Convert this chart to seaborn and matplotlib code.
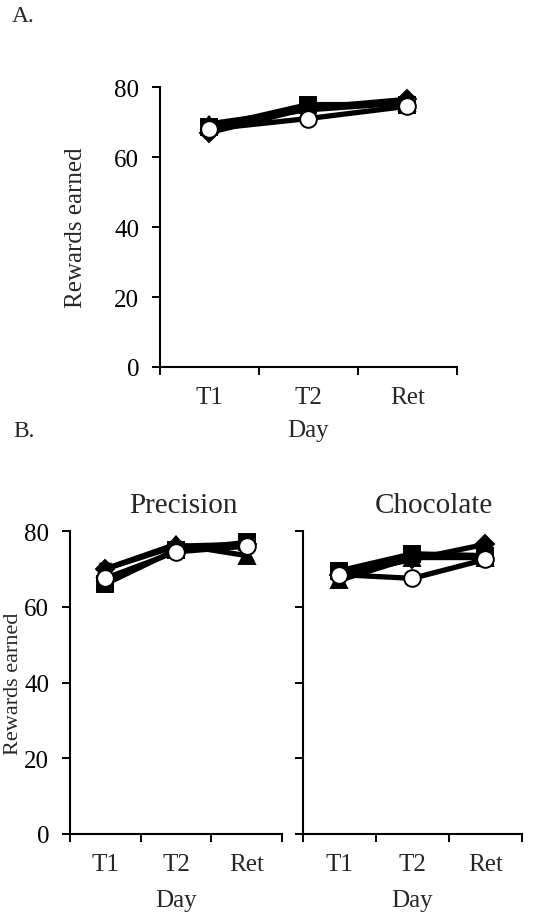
import matplotlib
matplotlib.use("Agg")
import matplotlib.pyplot as plt
import seaborn as sns
import pandas as pd
import numpy as np

sns.set_theme(style="ticks")
plt.rcParams['font.family'] = ['Liberation Serif', 'DejaVu Serif']

days = ["T1", "T2", "Ret"]
groups = ["diamond", "square", "triangle", "circle"]
markers = {"diamond": "D", "square": "s", "triangle": "^", "circle": "o"}
faces = {"diamond": "black", "square": "black", "triangle": "black", "circle": "white"}
msizes = {"diamond": 9, "square": 11, "triangle": 11, "circle": 12}

# Panel A
a_diamond = [67.0, 74.0, 76.5]
a_square = [68.5, 75.0, 75.0]
a_triangle = [69.5, 73.5, 75.5]
a_circle = [68.0, 71.0, 74.5]
a_err = [1.0, 1.0, 1.0]

# Panel B - Precision
p_diamond = [70.0, 76.0, 76.5]
p_square = [66.0, 75.0, 77.0]
p_triangle = [70.0, 76.5, 73.5]
p_circle = [67.5, 74.5, 76.0]
p_err = [1.5, 1.0, 1.0]

# Panel B - Chocolate
c_diamond = [68.5, 72.5, 76.5]
c_square = [69.5, 74.0, 73.5]
c_triangle = [67.0, 73.0, 73.0]
c_circle = [68.5, 67.5, 72.5]
c_err = [1.5, 1.0, 1.0]

yticks = [0, 20, 40, 60, 80]
FS = 18

fig = plt.figure(figsize=(5.4, 9.2), dpi=100)
axA = fig.add_axes([0.296, 0.600, 0.550, 0.3043])
axP = fig.add_axes([0.1296, 0.0924, 0.3926, 0.3293])
axC = fig.add_axes([0.561, 0.0924, 0.4056, 0.3293])

def draw(ax, data, err):
    for g in groups:
        df = pd.DataFrame({"Day": days, "Rewards": data[g]})
        ax.errorbar(np.arange(3), data[g], yerr=err, fmt="none",
                    ecolor="black", elinewidth=1.3, capsize=4, zorder=2)
        sns.lineplot(data=df, x="Day", y="Rewards", ax=ax, color="black",
                     marker=markers[g], markersize=msizes[g],
                     markerfacecolor=faces[g], markeredgecolor="black",
                     markeredgewidth=1.4, linewidth=3.8, sort=False,
                     zorder=4 if g == "circle" else 3)

def style(ax, ylabel=True, ylabels=True, ylabel_fs=FS):
    ax.set_ylim(0, 80)
    ax.set_xlim(-0.5, 2.5)
    ax.set_yticks(yticks)
    if ylabels:
        ax.set_yticklabels([str(t) for t in yticks], fontsize=FS)
    else:
        ax.set_yticklabels([])
    ax.set_xticks([-0.5, 0.5, 1.5, 2.5])
    ax.set_xticklabels([])
    ax.set_xticks([0, 1, 2], minor=True)
    ax.set_xticklabels(days, minor=True, fontsize=FS)
    ax.tick_params(axis="x", which="minor", length=0, pad=14)
    ax.tick_params(axis="both", which="major", direction="out", length=6,
                   width=1.4, colors="black")
    ax.tick_params(axis="y", pad=9)
    ax.set_xlabel("Day", fontsize=FS)
    if ylabel:
        ax.set_ylabel("Rewards earned", fontsize=ylabel_fs)
    else:
        ax.set_ylabel("")
    for s in ["top", "right"]:
        ax.spines[s].set_visible(False)
    for s in ["left", "bottom"]:
        ax.spines[s].set_linewidth(1.5)
        ax.spines[s].set_color("black")
    ax.set_facecolor("white")

draw(axA, {"diamond": a_diamond, "square": a_square, "triangle": a_triangle, "circle": a_circle}, a_err)
draw(axP, {"diamond": p_diamond, "square": p_square, "triangle": p_triangle, "circle": p_circle}, p_err)
draw(axC, {"diamond": c_diamond, "square": c_square, "triangle": c_triangle, "circle": c_circle}, c_err)

style(axA)
style(axP, ylabel_fs=16)
style(axC, ylabel=False, ylabels=False)
axA.yaxis.set_label_coords(-0.246, 0.5)
axP.yaxis.set_label_coords(-0.222, 0.5)
axA.xaxis.set_label_coords(0.5, -0.185)
for ax in (axP, axC):
    ax.xaxis.set_label_coords(0.5, -0.18)

axP.set_title("Precision", fontsize=21, pad=14, x=0.533)
axC.set_title("Chocolate", fontsize=21, pad=14, x=0.598)

fig.text(12/540, 1 - 17/920, "A.", fontsize=17, va="center", ha="left")
fig.text(13/540, 1 - 432/920, "B.", fontsize=17, va="center", ha="left")

fig.savefig("out.png", dpi=100, facecolor="white")
